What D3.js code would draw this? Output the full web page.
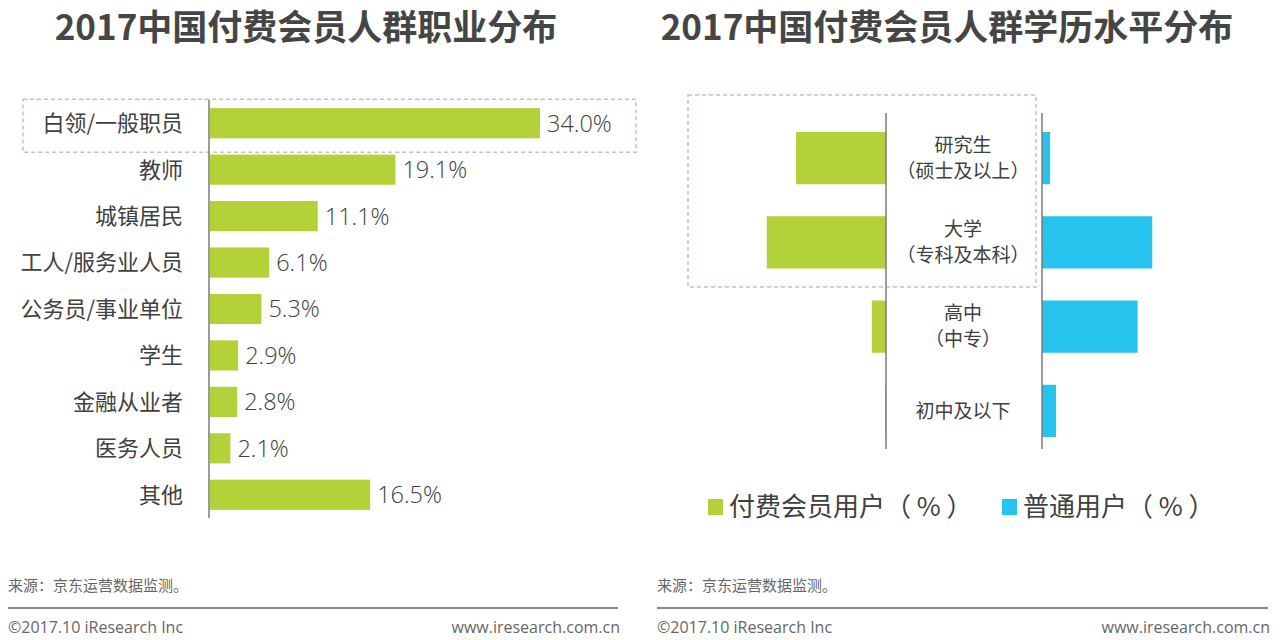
<!DOCTYPE html>
<html>
<head>
<meta charset="utf-8">
<script src="https://cdn.jsdelivr.net/npm/d3@7"></script>
<style>
  html, body { margin: 0; padding: 0; background: #fff; }
  svg { display: block; font-family: "Noto Sans CJK SC", "Noto Sans", sans-serif; }
</style>
</head>
<body>
<svg id="chart" width="1280" height="640"></svg>
<script>
// DATA -----------------------------------------------------------
const jobCategories = ["白领/一般职员", "教师", "城镇居民", "工人/服务业人员", "公务员/事业单位", "学生", "金融从业者", "医务人员", "其他"]
const jobValues = [34.0, 19.1, 11.1, 6.1, 5.3, 2.9, 2.8, 2.1, 16.5]

const eduCategories = ["研究生", "大学", "高中", "初中及以下"]
const eduSubLabels = ["（硕士及以上）", "（专科及本科）", "（中专）", ""]
const paidValues = [40.0, 53.0, 6.3, 0.4]     // 付费会员用户（%）
const normalValues = [3.6, 49.0, 42.5, 6.2]   // 普通用户（%）

const titles = ["2017中国付费会员人群职业分布", "2017中国付费会员人群学历水平分布"]
const legendLabels = ["付费会员用户（ % ）", "普通用户（ % ）"]
const sourceText = "来源：京东运营数据监测。"
const copyrightText = "©2017.10 iResearch Inc"
const siteText = "www.iresearch.com.cn"

const green = "#b4d13a"
const blue = "#25c3ee"
const textColor = "#404040"
const axisColor = "#7a7a7a"
const boxColor = "#d6b9bc"

const svg = d3.select("#chart")

// TITLES -----------------------------------------------------------
svg.selectAll(".title")
    .data(titles)
    .join("text")
    .attr("class", "title")
    .attr("x", (d, i) => i == 0 ? 306 : 947)
    .attr("y", 40)
    .attr("text-anchor", "middle")
    .attr("font-size", 35)
    .attr("font-weight", "bold")
    .attr("fill", "#454545")
    .text(d => d)

// LEFT CHART: occupation -----------------------------------------------------------
const left = { x0: 209, top: 100, bottom: 518 }

const yJob = d3.scaleBand()
    .domain(jobCategories)
    .range([left.top, left.bottom])
    .paddingInner(0.35)
    .paddingOuter(0.175)

const xJob = d3.scaleLinear()
    .domain([0, 34])
    .range([0, 330])

const jobRows = jobCategories.map((c, i) => ({ cat: c, value: jobValues[i] }))

// highlight box round the first row
svg.append("rect")
    .attr("x", 23)
    .attr("y", yJob(jobCategories[0]) - 9)
    .attr("width", 613)
    .attr("height", yJob.bandwidth() + 23)
    .attr("fill", "none")
    .attr("stroke", boxColor)
    .attr("stroke-width", 1.5)
    .attr("stroke-dasharray", "4,3")

svg.selectAll(".job-bar")
    .data(jobRows)
    .join("rect")
    .attr("class", "job-bar")
    .attr("x", left.x0 + 1)
    .attr("y", d => yJob(d.cat))
    .attr("width", d => xJob(d.value))
    .attr("height", yJob.bandwidth())
    .attr("fill", green)

svg.append("line")
    .attr("x1", left.x0).attr("x2", left.x0)
    .attr("y1", left.top).attr("y2", left.bottom)
    .attr("stroke", axisColor)
    .attr("stroke-width", 1.5)

svg.selectAll(".job-label")
    .data(jobRows)
    .join("text")
    .attr("class", "job-label")
    .attr("x", 183)
    .attr("y", d => yJob(d.cat) + yJob.bandwidth() / 2)
    .attr("dy", "0.36em")
    .attr("text-anchor", "end")
    .attr("font-size", 22)
    .attr("fill", textColor)
    .text(d => d.cat)

svg.selectAll(".job-value")
    .data(jobRows)
    .join("text")
    .attr("class", "job-value")
    .attr("x", d => left.x0 + xJob(d.value) + 8)
    .attr("y", d => yJob(d.cat) + yJob.bandwidth() / 2)
    .attr("dy", "0.36em")
    .attr("font-family", "'Open Sans', 'Noto Sans', sans-serif")
    .attr("font-weight", 300)
    .attr("font-size", 23.5)
    .attr("fill", textColor)
    .text(d => d3.format(".1f")(d.value) + "%")

// RIGHT CHART: education -----------------------------------------------------------
const right = { xl: 886, xr: 1042, top: 113, bottom: 449 }

const yEdu = d3.scaleBand()
    .domain(eduCategories)
    .range([116, 453])
    .paddingInner(0.38)
    .paddingOuter(0.19)

const xEdu = d3.scaleLinear()
    .domain([0, 10])
    .range([0, 22.5])

const eduRows = eduCategories.map((c, i) => ({
    cat: c, sub: eduSubLabels[i], paid: paidValues[i], normal: normalValues[i]
}))

svg.append("rect")
    .attr("x", 688)
    .attr("y", 95)
    .attr("width", 348)
    .attr("height", 192)
    .attr("fill", "none")
    .attr("stroke", boxColor)
    .attr("stroke-width", 1.5)
    .attr("stroke-dasharray", "4,3")

svg.selectAll(".paid-bar")
    .data(eduRows)
    .join("rect")
    .attr("class", "paid-bar")
    .attr("x", d => right.xl - xEdu(d.paid))
    .attr("y", d => yEdu(d.cat))
    .attr("width", d => xEdu(d.paid))
    .attr("height", yEdu.bandwidth())
    .attr("fill", green)

svg.selectAll(".normal-bar")
    .data(eduRows)
    .join("rect")
    .attr("class", "normal-bar")
    .attr("x", right.xr)
    .attr("y", d => yEdu(d.cat))
    .attr("width", d => xEdu(d.normal))
    .attr("height", yEdu.bandwidth())
    .attr("fill", blue)

;[right.xl, right.xr].forEach(x => {
    svg.append("line")
        .attr("x1", x).attr("x2", x)
        .attr("y1", right.top).attr("y2", right.bottom)
        .attr("stroke", axisColor)
        .attr("stroke-width", 1.5)
})

const eduCenter = d => yEdu(d.cat) + yEdu.bandwidth() / 2

svg.selectAll(".edu-label")
    .data(eduRows)
    .join("text")
    .attr("class", "edu-label")
    .attr("x", 963)
    .attr("y", d => d.sub ? eduCenter(d) - 13 : eduCenter(d))
    .attr("dy", "0.36em")
    .attr("text-anchor", "middle")
    .attr("font-size", 19)
    .attr("fill", textColor)
    .text(d => d.cat)

svg.selectAll(".edu-sub")
    .data(eduRows.filter(d => d.sub))
    .join("text")
    .attr("class", "edu-sub")
    .attr("x", 963)
    .attr("y", d => eduCenter(d) + 13)
    .attr("dy", "0.36em")
    .attr("text-anchor", "middle")
    .attr("font-size", 19)
    .attr("fill", textColor)
    .text(d => d.sub)

// LEGEND -----------------------------------------------------------
const legend = svg.selectAll(".legend")
    .data(legendLabels)
    .join("g")
    .attr("class", "legend")
    .attr("transform", (d, i) => `translate(${i == 0 ? 708 : 1002}, 507)`)

legend.append("rect")
    .attr("x", 0).attr("y", -8)
    .attr("width", 15).attr("height", 16)
    .attr("fill", (d, i) => i == 0 ? green : blue)

legend.append("text")
    .attr("x", 21)
    .attr("dy", "0.36em")
    .attr("font-size", 26)
    .attr("fill", textColor)
    .attr("xml:space", "preserve")
    .text(d => d)

// FOOTERS -----------------------------------------------------------
;[{ x0: 8, x1: 618 }, { x0: 657, x1: 1268 }].forEach(f => {
    svg.append("text")
        .attr("x", f.x0).attr("y", 586).attr("dy", "0.36em")
        .attr("font-size", 15).attr("fill", "#666")
        .text(sourceText)
    svg.append("line")
        .attr("x1", f.x0).attr("x2", f.x1)
        .attr("y1", 608).attr("y2", 608)
        .attr("stroke", "#888").attr("stroke-width", 2)
    svg.append("text")
        .attr("x", f.x0).attr("y", 627).attr("dy", "0.36em")
        .attr("font-family", "'Open Sans', sans-serif")
        .attr("font-size", 16).attr("fill", "#666")
        .text(copyrightText)
    svg.append("text")
        .attr("x", f.x1 + 2).attr("y", 627).attr("dy", "0.36em")
        .attr("text-anchor", "end")
        .attr("font-family", "'Open Sans', sans-serif")
        .attr("font-size", 16).attr("fill", "#666")
        .text(siteText)
})
</script>
</body>
</html>
